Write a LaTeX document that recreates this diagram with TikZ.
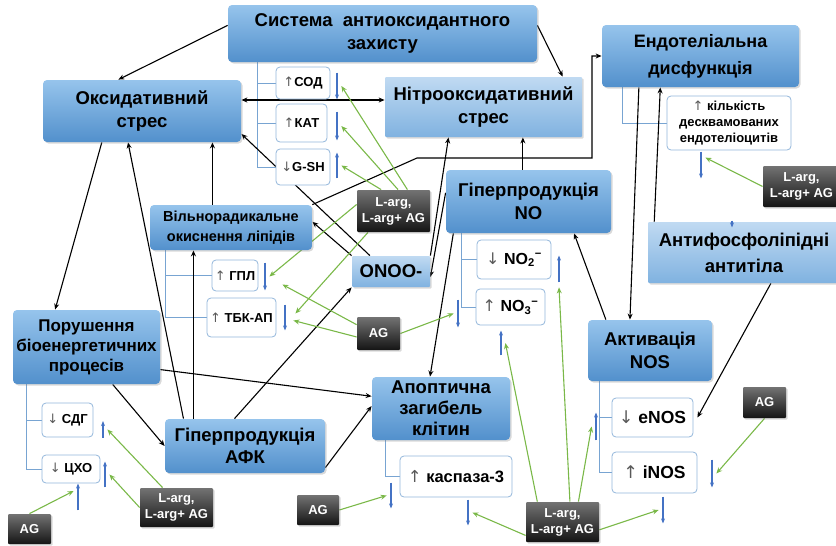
\documentclass[tikz,border=0pt]{standalone}
\usepackage{fontspec}
\setmainfont{Liberation Sans}
\newfontfamily\arrowfont{DejaVu Sans}
\usepackage{tikz}
\usetikzlibrary{backgrounds,arrows.meta,shadows}
\definecolor{boxtop}{RGB}{150,196,236}
\definecolor{boxbot}{RGB}{82,144,204}
\definecolor{paletop}{RGB}{192,218,242}
\definecolor{palebot}{RGB}{128,178,224}
\definecolor{branchcol}{RGB}{120,164,210}
\definecolor{trendcol}{RGB}{68,114,196}
\definecolor{effectcol}{RGB}{122,184,72}
\newcommand{\arup}{{\arrowfont\mdseries\textcolor{black!65}{↑}}}
\newcommand{\ardn}{{\arrowfont\mdseries\textcolor{black!65}{↓}}}

\begin{document}
\begin{tikzpicture}[x=1pt,y=-1pt,thick]

    % `process' is used for the blue boxes, `paleprocess' for the lighter ones.
    % `marker' holds a measured change, `agent' the L-arg and AG boxes.
    % `trend' is an empty node that carries one small blue arrow.
    \tikzstyle{process} = [rounded corners=4pt,top color=boxtop,bottom color=boxbot,
        drop shadow={shadow xshift=1.5pt,shadow yshift=-1.5pt,opacity=.3},
        align=center,inner sep=2pt,font=\bfseries\fontsize{18.5}{22.5}\selectfont]
    \tikzstyle{paleprocess} = [process,rounded corners=1pt,top color=paletop,bottom color=palebot]
    \tikzstyle{marker} = [draw=branchcol!80,line width=.8pt,fill=white,rounded corners=4pt,
        align=center,inner sep=2pt,font=\bfseries\fontsize{13}{16}\selectfont]
    \tikzstyle{agent} = [rounded corners=1pt,top color=black!55,bottom color=black!92,text=white,
        drop shadow={shadow xshift=1.5pt,shadow yshift=-1.5pt,opacity=.3},
        align=center,inner sep=1pt,font=\bfseries\fontsize{13}{16}\selectfont]
    \tikzstyle{trend} = [inner sep=0pt,minimum width=8pt]
    \tikzstyle{link} = [line width=1.1pt,-{Stealth[length=6pt,width=5pt]}]
    \tikzstyle{effect} = [line width=1.1pt,effectcol,-{Stealth[length=6pt,width=5pt]}]
    \tikzstyle{change} = [line width=1.3pt,trendcol,-{Stealth[length=5pt,width=4pt]}]
    \tikzstyle{branch} = [line width=.8pt,branchcol]
    %
    \useasboundingbox (0,0) rectangle (836,546);

    % Upper row.
    \node[process,minimum width=309pt,minimum height=57pt] (sys) at (382.5,33.5)
        {Система\ \ антиоксидантного\\захисту};
    \node[process,minimum width=198pt,minimum height=62pt] (oxy) at (142,111)
        {Оксидативний\\стрес};
    \node[paleprocess,minimum width=197pt,minimum height=60pt] (nitro) at (483.5,107)
        {Нітрооксидативний\\стрес};
    \node[process,font=\bfseries\fontsize{18}{27}\selectfont,
        minimum width=197pt,minimum height=62pt] (endo) at (700.5,56)
        {Ендотеліальна\\дисфункція};
    \node[marker,minimum width=124pt,minimum height=54pt] (desq) at (729,123)
        {\arup{} кількість\\десквамованих\\ендотеліоцитів};
    \node[marker,minimum width=54pt,minimum height=32pt] (sod) at (303,83) {\arup{}СОД};
    \node[marker,minimum width=51pt,minimum height=38pt] (kat) at (301.5,123) {\arup{}КАТ};
    \node[marker,minimum width=54pt,minimum height=36pt] (gsh) at (303,167) {\ardn{}G-SH};

    % Middle.
    \node[agent,minimum width=77pt,minimum height=41pt] (larg1) at (801.5,186.5) {L-arg,\\L-arg+ AG};
    \node[paleprocess,font=\bfseries\fontsize{18.5}{26}\selectfont,
        minimum width=192pt,minimum height=61pt] (afl) at (744,252.5)
        {Антифосфоліпідні\\антитіла};
    \node[process,minimum width=165pt,minimum height=63pt] (hno) at (528.5,201.5)
        {Гіперпродукція\\NO};
    \node[marker,font=\bfseries\fontsize{16}{19}\selectfont,
        minimum width=74pt,minimum height=39pt] (no2) at (514,259.5)
        {\ardn{} NO\textsubscript{2}\textsuperscript{−}};
    \node[marker,font=\bfseries\fontsize{16}{19}\selectfont,
        minimum width=69pt,minimum height=36pt] (no3) at (510.5,307)
        {\arup{} NO\textsubscript{3}\textsuperscript{−}};
    \node[process,font=\bfseries\fontsize{14.5}{20}\selectfont,
        minimum width=162pt,minimum height=45pt] (lpo) at (231,227.5)
        {Вільнорадикальне\\окиснення ліпідів};
    \node[marker,minimum width=46pt,minimum height=31pt] (gpl) at (235,275.5) {\arup{} ГПЛ};
    \node[marker,minimum width=69pt,minimum height=39pt] (tbk) at (241.5,317.5) {\arup{} ТБК-АП};
    \node[agent,minimum width=73pt,minimum height=42pt] (larg2) at (393.5,211) {L-arg,\\L-arg+ AG};
    \node[paleprocess,minimum width=78pt,minimum height=31pt] (onoo) at (391,271.5) {ONOO-};
    \node[agent,minimum width=43pt,minimum height=33pt] (ag1) at (378.5,333.5) {AG};

    % Lower part.
    \node[process,font=\bfseries\fontsize{17}{20}\selectfont,
        minimum width=147pt,minimum height=74pt] (bio) at (86.5,347)
        {Порушення\\біоенергетичних\\процесів};
    \node[marker,minimum width=51pt,minimum height=34pt] (sdg) at (67.5,420) {\ardn{} СДГ};
    \node[marker,minimum width=58pt,minimum height=28pt] (cho) at (71,469) {\ardn{} ЦХО};
    \node[agent,minimum width=73pt,minimum height=39pt] (larg3) at (176.5,507.5) {L-arg,\\L-arg+ AG};
    \node[agent,minimum width=43pt,minimum height=30pt] (ag2) at (29.5,529) {AG};
    \node[process,minimum width=160pt,minimum height=54pt] (ros) at (245,446)
        {Гіперпродукція\\АФК};
    \node[process,font=\bfseries\fontsize{18.5}{21}\selectfont,
        minimum width=138pt,minimum height=63pt] (apo) at (441,408.5)
        {Апоптична\\загибель\\клітин};
    \node[marker,font=\bfseries\fontsize{16.5}{19}\selectfont,
        minimum width=112pt,minimum height=41pt] (casp) at (456,476.5) {\arup{} каспаза-3};
    \node[agent,minimum width=42pt,minimum height=30pt] (ag3) at (318,510) {AG};
    \node[agent,minimum width=73pt,minimum height=40pt] (larg4) at (562.5,522) {L-arg,\\L-arg+ AG};
    \node[process,minimum width=124pt,minimum height=61pt] (nos) at (650,350.5) {Активація\\NOS};
    \node[marker,font=\bfseries\fontsize{17.5}{19}\selectfont,
        minimum width=81pt,minimum height=39pt] (enos) at (652.5,417.5) {\ardn{} eNOS};
    \node[marker,font=\bfseries\fontsize{17.5}{19}\selectfont,
        minimum width=85pt,minimum height=41pt] (inos) at (654.5,472.5) {\arup{} iNOS};
    \node[agent,minimum width=43pt,minimum height=31pt] (ag4) at (764.5,402.5) {AG};

    % Small blue arrows next to the markers.
    \foreach \n/\x/\y/\h in {sod/337/86/26,kat/337/126/28,gsh/337/165.5/25,
        gpl/265/276.5/27,tbk/285/317.5/25,no2/559/269/26,no3/458/313.5/27,
        no3b/501/343/24,sdg/103/429.5/16,cho/105/474.5/25,ag2/78/497/26,
        casp/391/495.5/25,caspb/468/512.5/25,enos/596/426.5/27,inos/712/473.5/27,
        inosb/663/510/26,desq/701/165/26,afl/732/224/6}
        \node[trend,minimum height=\h pt] (m-\n) at (\x,\y) {};
    \foreach \n in {sod,kat,gpl,tbk,no3,casp,caspb,inos,inosb,desq,afl}
        \draw[change] (m-\n.north) -- (m-\n.south);
    \foreach \n in {gsh,no2,no3b,sdg,cho,ag2,enos}
        \draw[change] (m-\n.south) -- (m-\n.north);

    \begin{pgfonlayer}{background}
        % Branches to the markers.
        \coordinate (b-sys) at ([xshift=30pt]sys.south west);
        \draw[branch] (b-sys) |- (gsh.west) (b-sys |- sod.west) -- (sod.west)
            (b-sys |- kat.west) -- (kat.west);
        \coordinate (b-lpo) at ([xshift=16pt]lpo.south west);
        \draw[branch] (b-lpo) |- (tbk.west) (b-lpo |- gpl.west) -- (gpl.west);
        \coordinate (b-hno) at ([xshift=16pt]hno.south west);
        \draw[branch] (b-hno) |- (no3.west) (b-hno |- no2.west) -- (no2.west);
        \coordinate (b-bio) at ([xshift=14pt]bio.south west);
        \draw[branch] (b-bio) |- (cho.west) (b-bio |- sdg.west) -- (sdg.west);
        \coordinate (b-apo) at ([xshift=14pt]apo.south west);
        \draw[branch] (b-apo) |- (casp.west);
        \coordinate (b-nos) at ([xshift=12pt]nos.south west);
        \draw[branch] (b-nos) |- (inos.west) (b-nos |- enos.west) -- (enos.west);
        \coordinate (b-endo) at ([xshift=21pt]endo.south west);
        \draw[branch] (b-endo) |- (desq.west);

        % Causal links.
        \draw[link] (sys.177) -- (oxy.127);
        \draw[link] (sys.3) -- (nitro.21);
        \draw[link,{Stealth[length=6pt,width=5pt]}-{Stealth[length=6pt,width=5pt]}]
            ([yshift=11pt]oxy.east) -- ([yshift=7pt]nitro.west);
        \draw[link] (oxy.218) -- (bio.130);
        \draw[link] (ros.156) -- (oxy.246);
        \draw[link] (ros.152) -- (ros.152 |- lpo.south);
        \draw[link] (lpo.129) -- (lpo.129 |- oxy.south);
        \draw[link] (onoo.143) -- (oxy.347);
        \draw[link] (onoo.north west) -- (lpo.4);
        \draw[link] (lpo.north east) -- (417,158) -- (592,158) |- (endo.west);
        \draw[link] (hno.100) -- (hno.100 |- nitro.south);
        \draw[link] (onoo.north east) -- (nitro.221);
        \draw[link] (hno.174) -- (onoo.352);
        \draw[link] (hno.203) -- (apo.109);
        \draw[link] (nos.145) -- (hno.325);
        \draw[link] (endo.207) -- (nos.123);
        \draw[link] (afl.161) -- (endo.218);
        \draw[link] (afl.311) -- ([xshift=4pt]enos.east);
        \draw[link] (bio.305) -- (ros.west);
        \draw[link] (bio.343) -- (apo.170);
        \draw[link] (ros.345) -- (apo.178);
        \draw[link] (ros.111) -- (onoo.south west);

        % Effects of L-arg and AG.
        \draw[effect] (larg2.57) -- (m-sod.east);
        \draw[effect] (larg2.78) -- (m-kat.east);
        \draw[effect] (larg2.120) -- (m-gsh.east);
        \draw[effect] (larg2.170) -- (m-gpl.east);
        \draw[effect] (larg2.220) -- ([xshift=6pt,yshift=4pt]m-tbk.east);
        \draw[effect] (ag1.158) -- ([xshift=13pt,yshift=-8pt]m-gpl.east);
        \draw[effect] (ag1.189) -- ([xshift=4pt,yshift=-3pt]m-tbk.east);
        \draw[effect] (ag1.east) -- (m-no3.west);
        \draw[effect] (larg3.125) -- (m-sdg.east);
        \draw[effect] (larg3.west) -- (m-cho.east);
        \draw[effect] (ag2.north) -- ([yshift=6pt]m-ag2.west);
        \draw[effect] (ag3.east) -- (m-casp.west);
        \draw[effect] (larg4.200) -- (m-caspb.east);
        \draw[effect] (larg4.141) -- (m-no3b.east);
        \draw[effect] (larg4.70) -- ([yshift=-5pt]m-no2.south);
        \draw[effect] (larg4.52) -- (m-enos.west);
        \draw[effect] (larg4.348) -- (m-inosb.west);
        \draw[effect] (ag4.south) -- (m-inos.east);
        \draw[effect] (larg1.west) -- ([yshift=-6pt]m-desq.north east);
    \end{pgfonlayer}
    %
\end{tikzpicture}
\end{document}
